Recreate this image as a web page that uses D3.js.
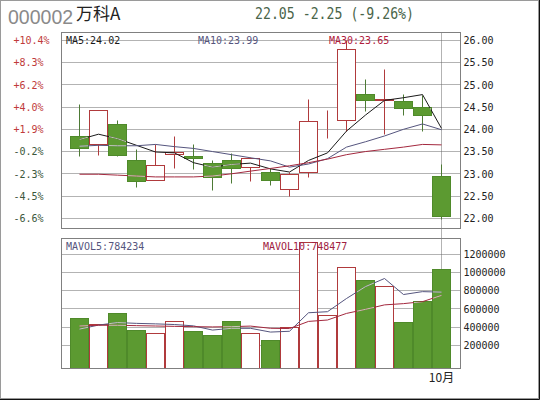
<!DOCTYPE html>
<html>
<head>
<meta charset="utf-8">
<script src="https://cdn.jsdelivr.net/npm/d3@7"></script>
<style>
  html, body { margin: 0; padding: 0; background: #fff; }
  svg { display: block; }
</style>
</head>
<body>
<svg id="chart" width="540" height="400"></svg>
<script>
// ---- Quote header ----
const stockCode = "000002";
const stockName = "万科A";
const quoteText = "22.05 -2.25 (-9.26%)";

// ---- Daily bars (trading days) ----
const dates = ["09-03","09-04","09-05","09-06","09-07","09-10","09-11","09-12","09-13","09-14",
               "09-17","09-18","09-19","09-20","09-21","09-25","09-26","09-27","09-28","10-08"];
const openPx  = [23.84,23.66,24.10,23.31,22.85,23.43,23.39,23.24,23.31,23.14,
                 23.03,22.65,23.02,23.99,24.20,24.79,24.65,24.62,24.49,22.95];
const highPx  = [24.56,24.43,24.20,23.55,23.66,23.84,23.65,23.29,23.45,23.36,
                 23.12,23.02,24.67,24.43,25.99,25.12,25.34,24.79,24.75,23.21];
const lowPx   = [23.39,23.42,23.40,22.69,22.85,23.12,23.10,22.63,22.78,22.82,
                 22.74,22.48,22.91,23.80,23.95,24.41,23.88,24.30,23.96,21.98];
const closePx = [23.57,24.43,23.42,22.82,23.19,23.47,23.34,22.91,23.13,23.34,
                 22.85,22.99,24.17,24.00,25.80,24.64,24.66,24.47,24.31,22.05];

// moving averages of close
const ma5  = [23.77,23.89,23.79,23.64,23.49,23.47,23.25,23.15,23.21,23.24,
              23.11,23.04,23.30,23.47,23.96,24.32,24.65,24.71,24.78,24.02];
const ma10 = [23.62,23.64,23.63,23.63,23.66,23.61,23.57,23.50,23.43,23.36,
              23.29,23.15,23.22,23.34,23.60,23.72,23.85,24.00,24.12,23.99];
const ma30 = [22.99,22.99,22.97,22.95,22.93,22.93,22.93,22.95,23.00,23.06,
              23.12,23.18,23.25,23.33,23.43,23.50,23.55,23.60,23.66,23.65];

// volume (shares) and its moving averages
const volume  = [500000,431000,544000,368000,335000,464000,357000,313000,464000,335000,
                 258000,401000,1330000,522000,1060000,912000,846000,450000,681000,1032000];
const mavol5  = [378000,422000,450000,441000,435600,428400,413600,367400,386600,386600,
                 345400,354200,557600,569200,714200,845000,934000,758000,789800,784234];
const mavol10 = [412000,420000,420000,416000,412000,408000,405000,402000,405000,411100,
                 386900,383900,462500,477900,550400,595200,644100,657800,679500,748477];

// ---- Tick labels ----
const priceTicks = [26, 25.5, 25, 24.5, 24, 23.5, 23, 22.5, 22];
const pctLabels  = ["+10.4%","+8.3%","+6.2%","+4.0%","+1.9%","-0.2%","-2.3%","-4.5%","-6.6%"];
const volTicks   = [1200000, 1000000, 800000, 600000, 400000, 200000];
const maLegend   = [["MA5", "24.02"], ["MA10", "23.99"], ["MA30", "23.65"]];
const volLegend  = [["MAVOL5", "784234"], ["MAVOL10", "748477"]];

// ---- Layout & style ----
const P = { left: 61.5, right: 460.5, top: 32.5, bottom: 228.5 };
const V = { top: 238.5, bottom: 368.5 };
const C = {
  green: "#5c9a31", greenEdge: "#4f8a2a", greenWick: "#4d7a35",
  red: "#b03a3c", grid: "#666", frame: "#808080",
  ma5: "#1a1a1a", ma10: "#55557e", ma30: "#a3283e",
  lineOnGreen: "#c5cdb6",
  up: "#c03a3a", down: "#3b573b", text: "#222"
};
const monoFont = "'DejaVu Sans Mono', monospace";

const svg = d3.select("#chart");
const defs = svg.append("defs");

// ---- Scales ----
const x = d3.scalePoint().domain(dates).range([61, 461]).padding(1);
const cx = d => Math.floor(x(d) - 0.5);          // pixel column of a bar's centre
const y = d3.scaleLinear().domain([22, 26]).range([218.3, 40.3]);
const yv = d3.scaleLinear().domain([0, 1200000]).range([363.5, 254.3]);
const snap = v => Math.round(v) + 0.5;

// outer frame
svg.append("rect").attr("x", 0.5).attr("y", 0.5).attr("width", 538).attr("height", 398)
  .attr("fill", "#fff").attr("stroke", "#9a9a9a");
svg.append("path").attr("d", "M539.5,0V399.5H0").attr("fill", "none").attr("stroke", "#111");

// ---- Header ----
svg.append("text").attr("x", 8).attr("y", 23.5).text(stockCode)
  .attr("font-family", "'Liberation Sans', Arial, sans-serif").attr("font-size", 19.5).attr("fill", "#8a8a8a");
svg.append("text").attr("x", 76).attr("y", 20).text(stockName)
  .attr("font-family", "'Noto Sans CJK SC', sans-serif").attr("font-size", 17).attr("fill", "#222");
svg.append("text").attr("x", 255).attr("y", 19).text(quoteText)
  .attr("font-family", monoFont).attr("font-size", 15).attr("fill", "#4a654a")
  .attr("textLength", 159).attr("lengthAdjust", "spacingAndGlyphs");

// ---- Grid ----
const grid = svg.append("g").attr("stroke", C.grid).attr("stroke-dasharray", "1,1");
grid.selectAll(".pg").data(priceTicks).join("line")
  .attr("x1", P.left).attr("x2", P.right)
  .attr("y1", d => snap(y(d) - 0.5)).attr("y2", d => snap(y(d) - 0.5));
grid.selectAll(".vg").data(volTicks).join("line")
  .attr("x1", P.left).attr("x2", P.right)
  .attr("y1", d => snap(yv(d) - 0.5)).attr("y2", d => snap(yv(d) - 0.5));

// month boundary
const monthStarts = dates.filter((d, i) => i > 0 && d.slice(0, 2) !== dates[i - 1].slice(0, 2));
grid.selectAll(".mg").data(monthStarts).join("line")
  .attr("x1", d => cx(d) + 0.5).attr("x2", d => cx(d) + 0.5)
  .attr("y1", P.top).attr("y2", V.bottom);
svg.selectAll(".mlabel").data(monthStarts).join("text")
  .attr("x", d => cx(d) + 0.5).attr("y", 382).attr("text-anchor", "middle")
  .attr("font-family", "'Noto Sans CJK SC', sans-serif").attr("font-size", 12).attr("fill", C.text)
  .text(d => +d.slice(0, 2) + "月");

// ---- Candles ----
const bars = dates.map((d, i) => ({ d, o: openPx[i], h: highPx[i], l: lowPx[i], c: closePx[i], v: volume[i] }));
const isUp = b => b.c >= b.o;

const candles = svg.append("g");
bars.forEach(b => {
  const xc = cx(b.d) + 0.5;
  const top = snap(y(Math.max(b.o, b.c)) - 0.5);
  const bot = snap(y(Math.min(b.o, b.c)) - 0.5);
  const hi = snap(y(b.h) - 0.5), lo = snap(y(b.l) - 0.5);
  if (isUp(b)) {
    candles.append("line").attr("x1", xc).attr("x2", xc).attr("y1", hi).attr("y2", top).attr("stroke", C.red);
    candles.append("line").attr("x1", xc).attr("x2", xc).attr("y1", bot).attr("y2", lo).attr("stroke", C.red);
    candles.append("rect").attr("x", xc - 9).attr("y", top).attr("width", 18).attr("height", bot - top)
      .attr("fill", "#fff").attr("stroke", C.red);
  } else {
    candles.append("line").attr("x1", xc).attr("x2", xc).attr("y1", hi).attr("y2", lo).attr("stroke", C.greenWick);
    candles.append("rect").attr("x", xc - 9).attr("y", top).attr("width", 18).attr("height", Math.max(1, bot - top))
      .attr("fill", C.green).attr("stroke", C.greenEdge);
  }
});

// ---- Volume bars ----
const vbars = svg.append("g");
bars.forEach(b => {
  const xc = cx(b.d) + 0.5;
  const top = snap(yv(b.v) - 0.5);
  vbars.append("rect").attr("x", xc - 9).attr("y", top).attr("width", 18).attr("height", V.bottom - top)
    .attr("fill", isUp(b) ? "#fff" : C.green).attr("stroke", isUp(b) ? C.red : C.greenEdge);
});

// clip regions: panels, and green bodies where lines show pale
defs.append("clipPath").attr("id", "pricePanel").append("rect")
  .attr("x", P.left).attr("y", P.top).attr("width", P.right - P.left).attr("height", P.bottom - P.top);
defs.append("clipPath").attr("id", "volPanel").append("rect")
  .attr("x", P.left).attr("y", V.top).attr("width", P.right - P.left).attr("height", V.bottom - V.top);
const downBars = bars.filter(b => !isUp(b));
defs.append("clipPath").attr("id", "greenBodies").selectAll("rect").data(downBars).join("rect")
  .attr("x", b => cx(b.d) - 8).attr("width", 17)
  .attr("y", b => snap(y(b.o) - 0.5) + 0.5)
  .attr("height", b => Math.max(0, snap(y(b.c) - 0.5) - snap(y(b.o) - 0.5) - 1));
defs.append("clipPath").attr("id", "greenVols").selectAll("rect").data(downBars).join("rect")
  .attr("x", b => cx(b.d) - 8).attr("width", 17)
  .attr("y", b => snap(yv(b.v) - 0.5) + 0.5)
  .attr("height", b => V.bottom - snap(yv(b.v) - 0.5) - 1);

// ---- Moving-average lines ----
const priceLine = d3.line().x((v, i) => cx(dates[i]) + 0.5).y(v => y(v));
const volLine = d3.line().x((v, i) => cx(dates[i]) + 0.5).y(v => yv(v));
const maSeries = [[ma5, C.ma5], [ma10, C.ma10], [ma30, C.ma30]];
const volSeries = [[mavol5, C.ma10], [mavol10, C.ma30]];

const gMA = svg.append("g").attr("clip-path", "url(#pricePanel)").attr("fill", "none");
maSeries.forEach(([s, col]) => gMA.append("path").attr("d", priceLine(s)).attr("stroke", col));
const gMApale = svg.append("g").attr("clip-path", "url(#greenBodies)").attr("fill", "none");
maSeries.forEach(([s]) => gMApale.append("path").attr("d", priceLine(s)).attr("stroke", C.lineOnGreen));

const gVol = svg.append("g").attr("clip-path", "url(#volPanel)").attr("fill", "none");
volSeries.forEach(([s, col]) => gVol.append("path").attr("d", volLine(s)).attr("stroke", col));
const gVolPale = svg.append("g").attr("clip-path", "url(#greenVols)").attr("fill", "none");
volSeries.forEach(([s]) => gVolPale.append("path").attr("d", volLine(s)).attr("stroke", C.lineOnGreen));

// ---- Panel frames ----
svg.append("rect").attr("x", P.left).attr("y", P.top).attr("width", P.right - P.left).attr("height", P.bottom - P.top)
  .attr("fill", "none").attr("stroke", C.frame);
svg.append("rect").attr("x", P.left).attr("y", V.top).attr("width", P.right - P.left).attr("height", V.bottom - V.top)
  .attr("fill", "none").attr("stroke", C.frame);

// ---- Axes ----
function styleAxis(g, fill) {
  g.select(".domain").remove();
  g.selectAll(".tick line").remove();
  g.selectAll("text").attr("font-family", monoFont).attr("font-size", 10)
    .attr("fill", typeof fill === "function" ? (d, i) => fill(d, i) : fill);
}
svg.append("g").attr("transform", "translate(460,0)")
  .call(d3.axisRight(y).tickValues(priceTicks).tickSize(0).tickPadding(3.5).tickFormat(d3.format(".2f")))
  .call(g => styleAxis(g, C.text));
svg.append("g").attr("transform", "translate(10,0)")
  .call(d3.axisRight(y).tickValues(priceTicks).tickSize(0).tickPadding(3.5).tickFormat((d, i) => pctLabels[i]))
  .call(g => styleAxis(g, (d, i) => pctLabels[i][0] === "+" ? C.up : C.down));
svg.append("g").attr("transform", "translate(460,0)")
  .call(d3.axisRight(yv).tickValues(volTicks).tickSize(0).tickPadding(3.5).tickFormat(d3.format("d")))
  .call(g => styleAxis(g, C.text));

// ---- Legends ----
const maX = [66, 198, 329];
svg.selectAll(".malab").data(maLegend).join("text")
  .attr("x", (d, i) => maX[i]).attr("y", 43.5)
  .attr("font-family", monoFont).attr("font-size", 10)
  .attr("fill", (d, i) => [C.ma5, C.ma10, "#b0203c"][i])
  .text(d => d[0] + ":" + d[1]);
const volX = [66, 263];
svg.selectAll(".vlab").data(volLegend).join("text")
  .attr("x", (d, i) => volX[i]).attr("y", 249.5)
  .attr("font-family", monoFont).attr("font-size", 10)
  .attr("fill", (d, i) => [C.ma10, "#a02040"][i])
  .text(d => d[0] + ":" + d[1]);
</script>
</body>
</html>
